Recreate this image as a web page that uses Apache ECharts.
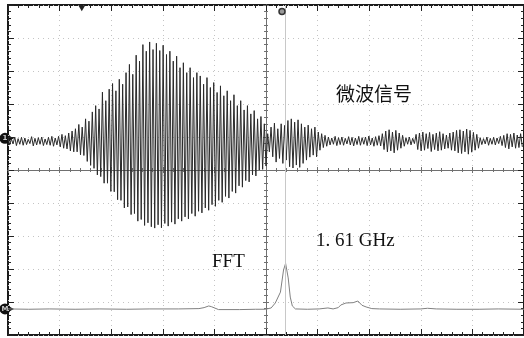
<!DOCTYPE html>
<html><head><meta charset="utf-8">
<script src="https://cdn.jsdelivr.net/npm/echarts@6/dist/echarts.min.js"></script>
<style>html,body{margin:0;padding:0;background:#fff}#c{width:524px;height:338px}</style>
</head><body><div id="c"></div>
<script>
// Microwave signal: upper (peak) and lower (trough) extreme of each oscillation cycle, in divisions
const peaks = [
0.97,0.94,1.00,0.95,0.99,0.97,0.93,1.01,0.96,0.98,1.00,0.94,0.99,1.02,0.97,
1.02,1.08,1.04,1.12,1.18,
1.25,1.38,1.30,1.55,1.48,
1.76,1.95,1.85,2.36,2.10,2.45,2.62,2.40,2.75,2.60,2.95,3.20,2.90,3.48,3.30,3.80,3.60,
3.88,3.65,3.84,
3.62,3.78,3.50,3.60,3.30,3.45,3.10,3.25,2.95,3.10,2.80,2.95,2.85,2.60,2.80,2.50,2.65,2.35,2.55,2.25,2.40,2.10,2.28,1.95,2.10,1.82,1.95,1.70,1.80,1.55,1.62,1.40,
1.10,1.30,1.42,1.25,1.40,1.35,1.50,1.55,1.45,1.52,1.40,1.30,1.36,1.25,1.30,1.15,
1.10,1.05,
1.00,0.97,1.02,0.98,1.00,0.96,1.01,0.99,0.97,1.02,0.98,1.00,1.03,0.97,1.01,1.04,
1.10,1.18,1.22,1.15,1.20,1.12,1.05,
0.98,1.00,0.96,
1.08,1.12,1.15,1.10,1.14,1.08,1.12,1.16,1.10,1.06,1.12,
1.15,1.20,1.22,1.18,1.24,1.20,1.14,1.08,
0.98,0.95,1.00,0.96,0.99,0.97,1.02,
1.05,1.10,1.08,1.12,1.06,1.10
];
const troughs = [
0.76,0.79,0.74,0.78,0.75,0.77,0.80,0.73,0.76,0.78,0.74,0.77,0.75,0.72,0.76,
0.70,0.66,0.64,0.58,0.55,
0.55,0.46,0.44,0.26,0.14,
0.05,-0.15,-0.20,-0.40,-0.40,-0.65,-0.66,-0.90,-0.92,-1.15,-1.12,-1.35,-1.32,-1.55,-1.50,-1.68,-1.60,
-1.72,-1.76,-1.66,
-1.75,-1.62,-1.70,-1.58,-1.64,-1.48,-1.55,-1.42,-1.48,-1.32,-1.40,-1.25,-1.30,-1.15,-1.22,-1.05,-1.10,-0.92,-0.98,-0.80,-0.85,-0.65,-0.70,-0.48,-0.52,-0.32,-0.36,-0.15,-0.18,0.00,0.02,0.12,
0.55,0.40,0.24,0.35,0.20,0.30,0.10,0.06,0.15,0.08,0.20,0.30,0.39,0.45,0.40,0.60,
0.68,0.72,
0.76,0.78,0.74,0.77,0.75,0.79,0.76,0.73,0.77,0.75,0.78,0.74,0.76,0.72,0.75,0.73,
0.62,0.55,0.58,0.52,0.60,0.66,0.72,
0.78,0.76,0.80,
0.62,0.58,0.60,0.65,0.56,0.62,0.58,0.60,0.64,0.66,0.60,
0.58,0.52,0.50,0.55,0.48,0.54,0.60,0.66,
0.77,0.79,0.75,0.78,0.76,0.80,0.74,
0.68,0.64,0.70,0.66,0.68,0.70
];
// FFT trace (divisions)
const fftX = [-5.00,-4.60,-4.19,-3.70,-3.22,-2.70,-2.25,-1.70,-1.30,-1.20,-1.11,-1.06,-1.03,-0.92,-0.51,-0.20,-0.01,0.10,0.18,0.28,0.34,0.38,0.43,0.47,0.51,0.57,0.80,1.03,1.20,1.30,1.40,1.45,1.55,1.69,1.78,1.86,1.94,2.05,2.20,2.60,3.00,3.13,3.30,3.70,4.13,4.50,5.00];
const fftY = [-4.21,-4.22,-4.21,-4.22,-4.21,-4.22,-4.21,-4.21,-4.20,-4.17,-4.12,-4.14,-4.19,-4.23,-4.23,-4.22,-4.22,-4.18,-4.03,-3.70,-3.03,-2.83,-3.27,-3.85,-4.12,-4.21,-4.22,-4.21,-4.18,-4.21,-4.17,-4.09,-4.03,-4.02,-3.97,-4.10,-4.15,-4.20,-4.21,-4.22,-4.21,-4.19,-4.21,-4.22,-4.22,-4.21,-4.22];
const cursorX = 0.38;
const triggerX = -3.57;
const ch1Level = 0.86;
const mathLevel = -4.21;
const waveLabel = '微波信号';
const fftLabel = 'FFT';
const freqLabel = '1. 61 GHz';

const n = peaks.length * 2;
const wave = [];
for (let i = 0; i < peaks.length; i++) {
  wave.push([-5 + (2 * i) * 10 / n, peaks[i]]);
  wave.push([-5 + (2 * i + 1) * 10 / n, troughs[i]]);
}
const fft = fftX.map((x, i) => [x, fftY[i]]);

const chart = echarts.init(document.getElementById('c'), null, {renderer: 'canvas'});
const base = {type: 'value', min: -5, max: 5, interval: 1, axisLabel: {show: false}};
const cAx = '#707070', bAx = '#222';
const dots = {color: '#c4c4c4', width: 1, type: [1, 4]};
const option = {
  animation: false,
  backgroundColor: '#fff',
  grid: {left: 8, top: 5, width: 519, height: 330, show: true, borderColor: '#1a1a1a', borderWidth: 2, backgroundColor: '#fff'},
  xAxis: [
    Object.assign({}, base, {position: 'bottom',
      axisLine: {show: true, onZero: true, onZeroAxisIndex: 0, lineStyle: {color: cAx, width: 1}},
      axisTick: {show: true, inside: true, length: 3, lineStyle: {color: cAx}},
      minorTick: {show: true, splitNumber: 5, length: 2, lineStyle: {color: cAx}},
      splitLine: {show: true, lineStyle: dots}}),
    Object.assign({}, base, {position: 'bottom',
      axisLine: {show: true, onZero: true, onZeroAxisIndex: 0, lineStyle: {color: cAx, width: 1}},
      axisTick: {show: true, inside: false, length: 3, lineStyle: {color: cAx}},
      minorTick: {show: true, splitNumber: 5, length: 2, lineStyle: {color: cAx}},
      splitLine: {show: false}}),
    Object.assign({}, base, {position: 'top',
      axisLine: {show: false, onZero: false},
      axisTick: {show: true, inside: true, length: 6, lineStyle: {color: bAx}},
      minorTick: {show: true, splitNumber: 5, length: 3, lineStyle: {color: bAx}},
      splitLine: {show: false}}),
    Object.assign({}, base, {position: 'bottom',
      axisLine: {show: false, onZero: false},
      axisTick: {show: true, inside: true, length: 6, lineStyle: {color: bAx}},
      minorTick: {show: true, splitNumber: 5, length: 3, lineStyle: {color: bAx}},
      splitLine: {show: false}})
  ],
  yAxis: [
    Object.assign({}, base, {position: 'left',
      axisLine: {show: true, onZero: true, onZeroAxisIndex: 0, lineStyle: {color: cAx, width: 1}},
      axisTick: {show: true, inside: true, length: 3, lineStyle: {color: cAx}},
      minorTick: {show: true, splitNumber: 5, length: 2, lineStyle: {color: cAx}},
      splitLine: {show: true, lineStyle: dots}}),
    Object.assign({}, base, {position: 'left',
      axisLine: {show: true, onZero: true, onZeroAxisIndex: 0, lineStyle: {color: cAx, width: 1}},
      axisTick: {show: true, inside: false, length: 3, lineStyle: {color: cAx}},
      minorTick: {show: true, splitNumber: 5, length: 2, lineStyle: {color: cAx}},
      splitLine: {show: false}}),
    Object.assign({}, base, {position: 'left',
      axisLine: {show: false, onZero: false},
      axisTick: {show: true, inside: true, length: 6, lineStyle: {color: bAx}},
      minorTick: {show: true, splitNumber: 5, length: 3, lineStyle: {color: bAx}},
      splitLine: {show: false}}),
    Object.assign({}, base, {position: 'right',
      axisLine: {show: false, onZero: false},
      axisTick: {show: true, inside: true, length: 6, lineStyle: {color: bAx}},
      minorTick: {show: true, splitNumber: 5, length: 3, lineStyle: {color: bAx}},
      splitLine: {show: false}})
  ],
  series: [
    {type: 'line', name: waveLabel, data: wave, xAxisIndex: 0, yAxisIndex: 0,
      symbol: 'none', showSymbol: false, sampling: null, z: 4,
      lineStyle: {color: '#2a2a2a', width: 1},
      markPoint: {silent: true, label: {show: false},
        data: [{coord: [triggerX, 4.90], symbol: 'triangle', symbolRotate: 180, symbolSize: [7, 6], itemStyle: {color: '#222'}}]}
    },
    {type: 'line', name: fftLabel, data: fft, xAxisIndex: 0, yAxisIndex: 0,
      symbol: 'none', showSymbol: false, z: 3,
      lineStyle: {color: '#808080', width: 1},
      markLine: {silent: true, symbol: 'none', label: {show: false},
        lineStyle: {color: '#c8c8c8', type: 'solid', width: 1},
        data: [{xAxis: cursorX}]},
      markPoint: {silent: true, label: {show: false},
        data: [{coord: [cursorX - 0.07, 4.80], symbol: 'circle', symbolSize: 6, itemStyle: {color: '#999', borderColor: '#333', borderWidth: 1.5}}]}
    }
  ],
  graphic: [
    {type: 'text', x: 336, y: 94, z: 10, style: {text: waveLabel, font: '19px "Noto Sans CJK SC"', fill: '#111', textAlign: 'left', textVerticalAlign: 'middle', align: 'left', verticalAlign: 'middle'}},
    {type: 'text', x: 212, y: 262, z: 10, style: {text: fftLabel, font: '19px "Liberation Serif"', fill: '#111', textAlign: 'left', textVerticalAlign: 'middle', align: 'left', verticalAlign: 'middle'}},
    {type: 'text', x: 316, y: 241, z: 10, style: {text: freqLabel, font: '19px "Liberation Serif"', fill: '#111', textAlign: 'left', textVerticalAlign: 'middle', align: 'left', verticalAlign: 'middle'}}
  ]
};
chart.setOption(option);

// reference-level markers at the left edge, positioned through the axes
function refMarker(level, txt) {
  const p = chart.convertToPixel({xAxisIndex: 0, yAxisIndex: 0}, [-5, level]);
  const cx = p[0] - 3, cy = p[1];
  return {type: 'group', z: 20, children: [
    {type: 'polygon', shape: {points: [[cx + 2, cy - 3.5], [cx + 9, cy], [cx + 2, cy + 3.5]]}, style: {fill: '#111'}},
    {type: 'circle', shape: {cx: cx, cy: cy, r: 5.5}, style: {fill: '#111'}},
    {type: 'text', x: cx, y: cy, style: {text: txt, font: 'bold 7px "DejaVu Sans"', fill: '#ccc', textAlign: 'center', textVerticalAlign: 'middle', align: 'center', verticalAlign: 'middle'}}
  ]};
}
chart.setOption({graphic: option.graphic.concat([refMarker(ch1Level + 0.1, '1'), refMarker(mathLevel, 'M')])});
</script></body></html>
